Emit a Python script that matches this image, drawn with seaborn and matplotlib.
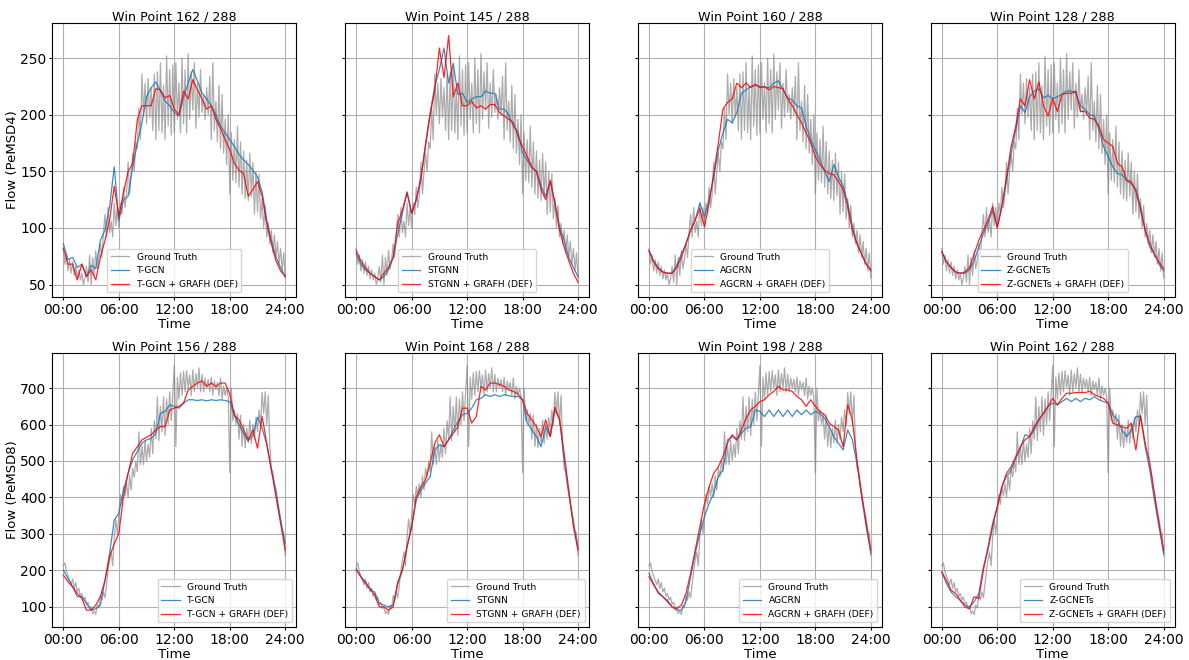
import numpy as np
import matplotlib
matplotlib.use("Agg")
import matplotlib.pyplot as plt
import seaborn as sns

# ground truth flow, one value every 10 min from 00:00 to 24:00
gt_pems04 = [82, 68, 76, 62, 72, 60, 70, 58, 66, 55, 63, 54,
             60, 50, 56, 66, 52, 76, 50, 74, 58, 80, 64, 72,
             86, 74, 96, 112, 92, 118, 96, 106, 92, 122, 102, 118,
             100, 122, 112, 136, 118, 130, 158, 130, 150, 166, 150, 176,
             170, 206, 178, 236, 200, 228, 192, 232, 198, 224, 186, 236,
             178, 238, 186, 246, 184, 226, 178, 252, 190, 240, 182, 244,
             184, 246, 196, 228, 184, 250, 192, 240, 184, 254, 196, 238,
             204, 246, 188, 228, 198, 240, 202, 218, 196, 224, 200, 234,
             178, 246, 186, 212, 176, 226, 170, 218, 166, 196, 156, 200,
             130, 184, 142, 178, 140, 190, 136, 176, 130, 168, 126, 160,
             124, 166, 128, 158, 112, 150, 114, 148, 108, 126, 100, 120,
             92, 104, 86, 98, 78, 94, 74, 88, 68, 82, 62, 78, 56]
gt_pems08 = [212, 220, 196, 184, 172, 160, 176, 150, 166, 140, 150, 128,
             136, 118, 126, 106, 112, 94, 100, 80, 88, 78, 104, 96,
             130, 118, 140, 124, 160, 200, 228, 250, 212, 290, 340, 300,
             350, 408, 380, 430, 404, 438, 400, 460, 420, 480, 456, 500,
             470, 580, 490, 540, 490, 556, 500, 546, 510, 590, 520, 610,
             560, 676, 556, 650, 580, 676, 570, 670, 600, 690, 610, 686,
             762, 540, 730, 670, 742, 680, 746, 690, 748, 700, 736, 680,
             750, 690, 740, 700, 756, 690, 738, 690, 728, 700, 724, 690,
             730, 680, 720, 696, 716, 680, 728, 670, 706, 680, 700, 676,
             468, 700, 610, 640, 600, 630, 560, 626, 540, 600, 536, 590,
             550, 612, 548, 600, 560, 620, 580, 640, 600, 688, 630, 690,
             600, 680, 540, 480, 470, 430, 410, 380, 360, 340, 310, 300, 240]

# predictions, one value every 30 min
tgcn_04 = [86, 72, 74, 65, 68, 57, 67, 64, 89, 98, 119, 154, 107, 125, 128, 154, 175,
           193, 216, 224, 229, 221, 212, 208, 202, 199, 216, 228, 240, 230, 219, 214,
           208, 200, 190, 184, 178, 172, 165, 160, 156, 151, 145, 132, 107, 89, 74, 65, 57]
tgcn_grafh_04 = [82, 68, 68, 54, 68, 57, 63, 54, 74, 89, 107, 137, 110, 131, 150, 157, 196,
                 208, 208, 208, 223, 222, 215, 217, 205, 200, 221, 214, 231, 222, 214, 205,
                 208, 196, 188, 178, 169, 157, 151, 148, 128, 134, 141, 128, 104, 86, 71, 62, 57]
stgnn_04 = [77, 68, 63, 60, 57, 54, 57, 63, 74, 95, 113, 132, 113, 125, 142, 175, 202,
            225, 240, 259, 228, 245, 218, 219, 211, 214, 216, 216, 221, 219, 219, 205,
            205, 200, 190, 185, 166, 160, 153, 150, 137, 128, 141, 122, 101, 89, 74, 65, 57]
stgnn_grafh_04 = [80, 71, 65, 60, 57, 54, 60, 65, 74, 104, 116, 131, 113, 125, 145, 172, 200,
                  222, 259, 233, 270, 216, 228, 208, 208, 212, 206, 208, 205, 209, 209, 202,
                  199, 196, 193, 181, 172, 163, 154, 150, 134, 125, 142, 122, 98, 83, 71, 60, 52]
agcrn_04 = [80, 71, 65, 61, 60, 60, 67, 77, 86, 98, 107, 122, 110, 125, 145, 169, 184,
            196, 193, 202, 219, 222, 225, 226, 225, 224, 224, 228, 230, 222, 215, 213,
            208, 206, 190, 178, 169, 160, 150, 141, 156, 145, 137, 122, 101, 86, 77, 68, 62]
agcrn_grafh_04 = [80, 70, 64, 61, 60, 60, 65, 74, 86, 98, 107, 117, 101, 122, 148, 175, 205,
                  211, 214, 228, 224, 228, 224, 227, 224, 225, 222, 225, 224, 223, 214, 208,
                  200, 193, 184, 175, 163, 156, 151, 148, 147, 141, 134, 119, 98, 86, 77, 68, 63]
zgcnet_04 = [79, 70, 65, 61, 60, 60, 63, 71, 83, 95, 104, 116, 101, 119, 142, 166, 187,
             208, 202, 216, 221, 223, 215, 217, 214, 216, 218, 221, 221, 219, 208, 205,
             200, 199, 187, 172, 163, 154, 148, 147, 142, 139, 134, 119, 98, 83, 77, 68, 62]
zgcnet_grafh_04 = [79, 70, 65, 61, 60, 61, 65, 77, 89, 98, 107, 119, 100, 119, 145, 172, 190,
                   214, 208, 231, 214, 229, 208, 199, 214, 203, 218, 219, 219, 221, 203, 203,
                   197, 196, 190, 178, 175, 172, 157, 154, 142, 141, 132, 116, 98, 86, 77, 70, 64]

tgcn_08 = [200, 177, 154, 127, 127, 108, 90, 94, 104, 172, 246, 338, 356, 420, 466, 503, 526,
           549, 558, 562, 576, 631, 636, 654, 650, 645, 659, 668, 668, 666, 668, 665,
           668, 666, 668, 666, 663, 625, 600, 575, 555, 570, 620, 590, 545, 475, 420, 338, 273]
tgcn_grafh_08 = [186, 168, 154, 136, 122, 90, 90, 104, 127, 172, 237, 273, 301, 402, 466, 521, 539,
                 558, 565, 572, 585, 594, 594, 640, 645, 650, 659, 695, 705, 714, 720, 705,
                 714, 705, 714, 714, 684, 626, 613, 585, 558, 585, 535, 622, 549, 475, 402, 328, 255]
stgnn_08 = [205, 182, 168, 145, 140, 108, 104, 99, 104, 163, 200, 264, 319, 393, 420, 439, 457,
            530, 544, 539, 558, 585, 608, 627, 631, 645, 668, 672, 682, 677, 682, 677,
            682, 679, 677, 677, 668, 604, 585, 567, 539, 594, 567, 640, 613, 503, 412, 328, 260]
stgnn_grafh_08 = [200, 182, 163, 150, 131, 99, 99, 90, 99, 168, 200, 264, 319, 402, 429, 448, 494,
                  549, 572, 539, 558, 576, 594, 645, 645, 604, 622, 705, 695, 714, 714, 710,
                  705, 695, 691, 684, 668, 631, 613, 594, 567, 613, 567, 648, 615, 521, 420, 319, 255]
agcrn_08 = [191, 163, 136, 127, 117, 99, 90, 90, 113, 182, 246, 301, 347, 383, 411, 457, 475,
            558, 567, 558, 576, 590, 594, 640, 636, 622, 640, 622, 640, 622, 640, 622,
            640, 627, 640, 627, 636, 631, 617, 594, 567, 549, 530, 585, 558, 494, 402, 319, 246]
agcrn_grafh_08 = [182, 159, 140, 127, 113, 99, 94, 104, 136, 191, 255, 319, 383, 429, 466, 484, 512,
                  549, 572, 558, 585, 617, 640, 650, 663, 668, 682, 691, 705, 695, 695, 691,
                  677, 668, 650, 668, 650, 636, 627, 604, 594, 585, 539, 654, 613, 503, 412, 328, 255]
zgcnet_08 = [195, 163, 140, 127, 117, 104, 99, 113, 136, 209, 255, 319, 374, 429, 457, 475, 507,
             535, 572, 567, 585, 613, 631, 650, 659, 654, 663, 672, 663, 672, 663, 672,
             668, 677, 668, 663, 659, 627, 613, 585, 567, 585, 622, 622, 539, 475, 393, 319, 246]
zgcnet_grafh_08 = [195, 172, 145, 136, 117, 99, 94, 127, 122, 200, 264, 328, 374, 429, 466, 484, 512,
                   539, 558, 567, 594, 613, 631, 650, 672, 654, 672, 686, 686, 688, 688, 688,
                   691, 682, 677, 672, 659, 604, 599, 594, 590, 604, 530, 626, 549, 494, 412, 328, 255]

models = ["T-GCN", "STGNN", "AGCRN", "Z-GCNETs"]
win_points_04 = [162, 145, 160, 128]
win_points_08 = [156, 168, 198, 162]
preds_04 = [(tgcn_04, tgcn_grafh_04), (stgnn_04, stgnn_grafh_04),
            (agcrn_04, agcrn_grafh_04), (zgcnet_04, zgcnet_grafh_04)]
preds_08 = [(tgcn_08, tgcn_grafh_08), (stgnn_08, stgnn_grafh_08),
            (agcrn_08, agcrn_grafh_08), (zgcnet_08, zgcnet_grafh_08)]

t_gt = np.arange(len(gt_pems04)) * 10 / 60      # hours
t_pred = np.arange(len(tgcn_04)) * 30 / 60


def plot_panel(ax, gt, base, grafh, name, win, legend_loc):
    sns.lineplot(x=t_gt, y=gt, ax=ax, color="gray", alpha=0.65, lw=0.9, label="Ground Truth")
    sns.lineplot(x=t_pred, y=base, ax=ax, color="#1f77b4", alpha=0.85, lw=0.9, label=name)
    sns.lineplot(x=t_pred, y=grafh, ax=ax, color="red", alpha=0.85, lw=0.9,
                 label=name + " + GRAFH (DEF)")
    ax.set_title(f"Win Point {win} / 288", fontsize=9.2, pad=2)
    ax.set_xticks([0, 6, 12, 18, 24])
    ax.set_xticklabels(["00:00", "06:00", "12:00", "18:00", "24:00"])
    ax.set_xlabel("Time", fontsize=9.5, labelpad=0.5)
    ax.set_ylabel("")
    ax.tick_params(labelsize=10, length=2.5, pad=1.8)
    ax.grid(True, color="#b0b0b0", lw=0.8)
    ax.legend(loc=legend_loc, fontsize=6.6)


def main():
    fig, axes = plt.subplots(2, 4, figsize=(11.89, 6.6), dpi=100, sharey="row")
    for i in range(4):
        plot_panel(axes[0, i], gt_pems04, preds_04[i][0], preds_04[i][1],
                   models[i], win_points_04[i], "lower center")
        plot_panel(axes[1, i], gt_pems08, preds_08[i][0], preds_08[i][1],
                   models[i], win_points_08[i], "lower right")
    axes[0, 0].set_ylabel("Flow (PeMSD4)", fontsize=9.5, labelpad=1)
    axes[1, 0].set_ylabel("Flow (PeMSD8)", fontsize=9.5, labelpad=1)
    plt.subplots_adjust(left=0.044, right=0.988, top=0.965, bottom=0.05, wspace=0.2, hspace=0.205)
    plt.savefig("out.png")


if __name__ == "__main__":
    main()
